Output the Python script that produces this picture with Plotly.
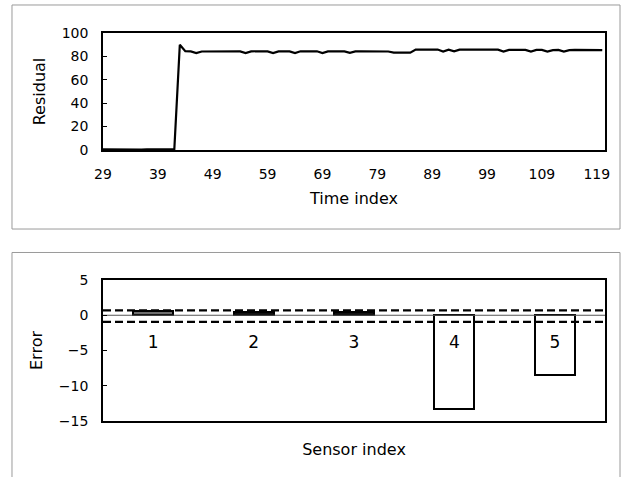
import plotly.graph_objects as go
from plotly.subplots import make_subplots

# ---- data ----
time_index = list(range(29, 121))
residual = [
    0.5, 0.4, 0.5, 0.5, 0.4, 0.5, 0.5, 0.4, 0.5, 0.5, 0.4, 0.5, 0.5, 0.6,   # 29-42
    90.0, 84.5, 84.3, 82.8, 84.2, 84.3, 84.3, 84.4, 84.3, 84.3, 84.4, 84.3,  # 43-54
    82.9, 84.3, 84.4, 84.3, 84.3, 82.9, 84.3, 84.4, 84.3, 82.9, 84.4, 84.3,  # 55-66
    84.3, 84.4, 82.9, 84.3, 84.3, 84.2, 84.3, 83.0, 84.3, 84.3, 84.2, 84.3,  # 67-78
    84.3, 84.3, 84.2, 83.2, 83.1, 83.2, 83.2, 85.8, 85.9, 85.8, 85.8, 85.9,  # 79-90
    84.2, 85.8, 84.3, 85.8, 85.9, 85.8, 85.8, 85.9, 85.8, 85.8, 85.8, 84.2,  # 91-102
    85.6, 85.6, 85.5, 85.6, 84.1, 85.5, 85.5, 84.1, 85.4, 85.5, 84.1, 85.4,  # 103-114
    85.5, 85.5, 85.4, 85.5, 85.5, 85.4,                                      # 115-120
]
time_ticks = [29, 39, 49, 59, 69, 79, 89, 99, 109, 119]

sensors = [1, 2, 3, 4, 5]
sensor_labels = ["1", "2", "3", "4", "5"]
sensor_error = [0.6, 0.4, 0.4, -13.3, -8.5]
upper_limit = 0.7
lower_limit = -0.95

FONT = "DejaVu Sans"

fig = make_subplots(rows=2, cols=1, vertical_spacing=0.0)

fig.add_trace(go.Scatter(x=time_index, y=residual, mode="lines",
                         line=dict(color="black", width=2.2),
                         showlegend=False, hoverinfo="skip"), row=1, col=1)

fig.add_trace(go.Bar(x=sensors, y=sensor_error, width=0.4,
                     marker=dict(color=["#6e6e6e", "#111111", "#111111", "white", "white"],
                                 line=dict(color="black", width=2)),
                     showlegend=False, hoverinfo="skip"), row=2, col=1)

# zero line and limits
fig.add_trace(go.Scatter(x=[0.5, 5.5], y=[0, 0], mode="lines",
                         line=dict(color="#555555", width=1),
                         showlegend=False, hoverinfo="skip"), row=2, col=1)
for lim in (upper_limit, lower_limit):
    fig.add_trace(go.Scatter(x=[0.5, 5.5], y=[lim, lim], mode="lines",
                             line=dict(color="black", width=2.2, dash="8px,4px"),
                             showlegend=False, hoverinfo="skip"), row=2, col=1)

fig.add_trace(go.Scatter(x=sensors, y=[-4] * len(sensors), mode="text",
                         text=sensor_labels,
                         textfont=dict(family=FONT, size=17, color="black"),
                         showlegend=False, hoverinfo="skip"), row=2, col=1)

axis_common = dict(showgrid=False, zeroline=False, showline=True, linecolor="black",
                   linewidth=1.6, mirror=True,
                   tickfont=dict(family=FONT, size=14, color="black"))

fig.update_xaxes(**axis_common, range=[29, 120.5], tickvals=time_ticks,
                 ticks="", ticklabelstandoff=10,
                 title=dict(text="Time index", font=dict(family=FONT, size=16, color="black"),
                            standoff=12),
                 row=1, col=1)
fig.update_yaxes(**axis_common, range=[0, 100], dtick=20, ticks="inside", ticklen=4,
                 tickcolor="black", ticklabelstandoff=10,
                 title=dict(text="Residual", font=dict(family=FONT, size=16, color="black"),
                            standoff=12),
                 row=1, col=1)

fig.update_xaxes(**axis_common, range=[0.5, 5.5], showticklabels=False, ticks="",
                 title=dict(text="Sensor index", font=dict(family=FONT, size=16, color="black"),
                            standoff=22),
                 row=2, col=1)
fig.update_yaxes(**axis_common, range=[-15, 5], dtick=5, ticks="inside", ticklen=4,
                 tickcolor="black", ticklabelstandoff=10,
                 title=dict(text="Error", font=dict(family=FONT, size=16, color="black"),
                            standoff=12),
                 row=2, col=1)

fig.update_layout(
    width=622, height=477,
    margin=dict(l=103, r=17, t=33, b=56, autoexpand=False),
    paper_bgcolor="white", plot_bgcolor="white",
    yaxis=dict(domain=[0.6985, 1.0]),
    yaxis2=dict(domain=[0.0, 0.3634]),
    xaxis=dict(anchor="y"), xaxis2=dict(anchor="y2"),
    bargap=0,
    shapes=[
        dict(type="rect", xref="paper", yref="paper", x0=-0.1813, x1=1.0299,
             y0=0.4948, y1=1.0722, line=dict(color="#9a9a9a", width=1)),
        dict(type="rect", xref="paper", yref="paper", x0=-0.1813, x1=1.0299,
             y0=-0.2, y1=0.4343, line=dict(color="#9a9a9a", width=1)),
    ],
)

fig.write_html("out.html",
               config={"displayModeBar": False},
               post_script="document.body.style.margin='0';document.body.style.overflow='hidden';")
